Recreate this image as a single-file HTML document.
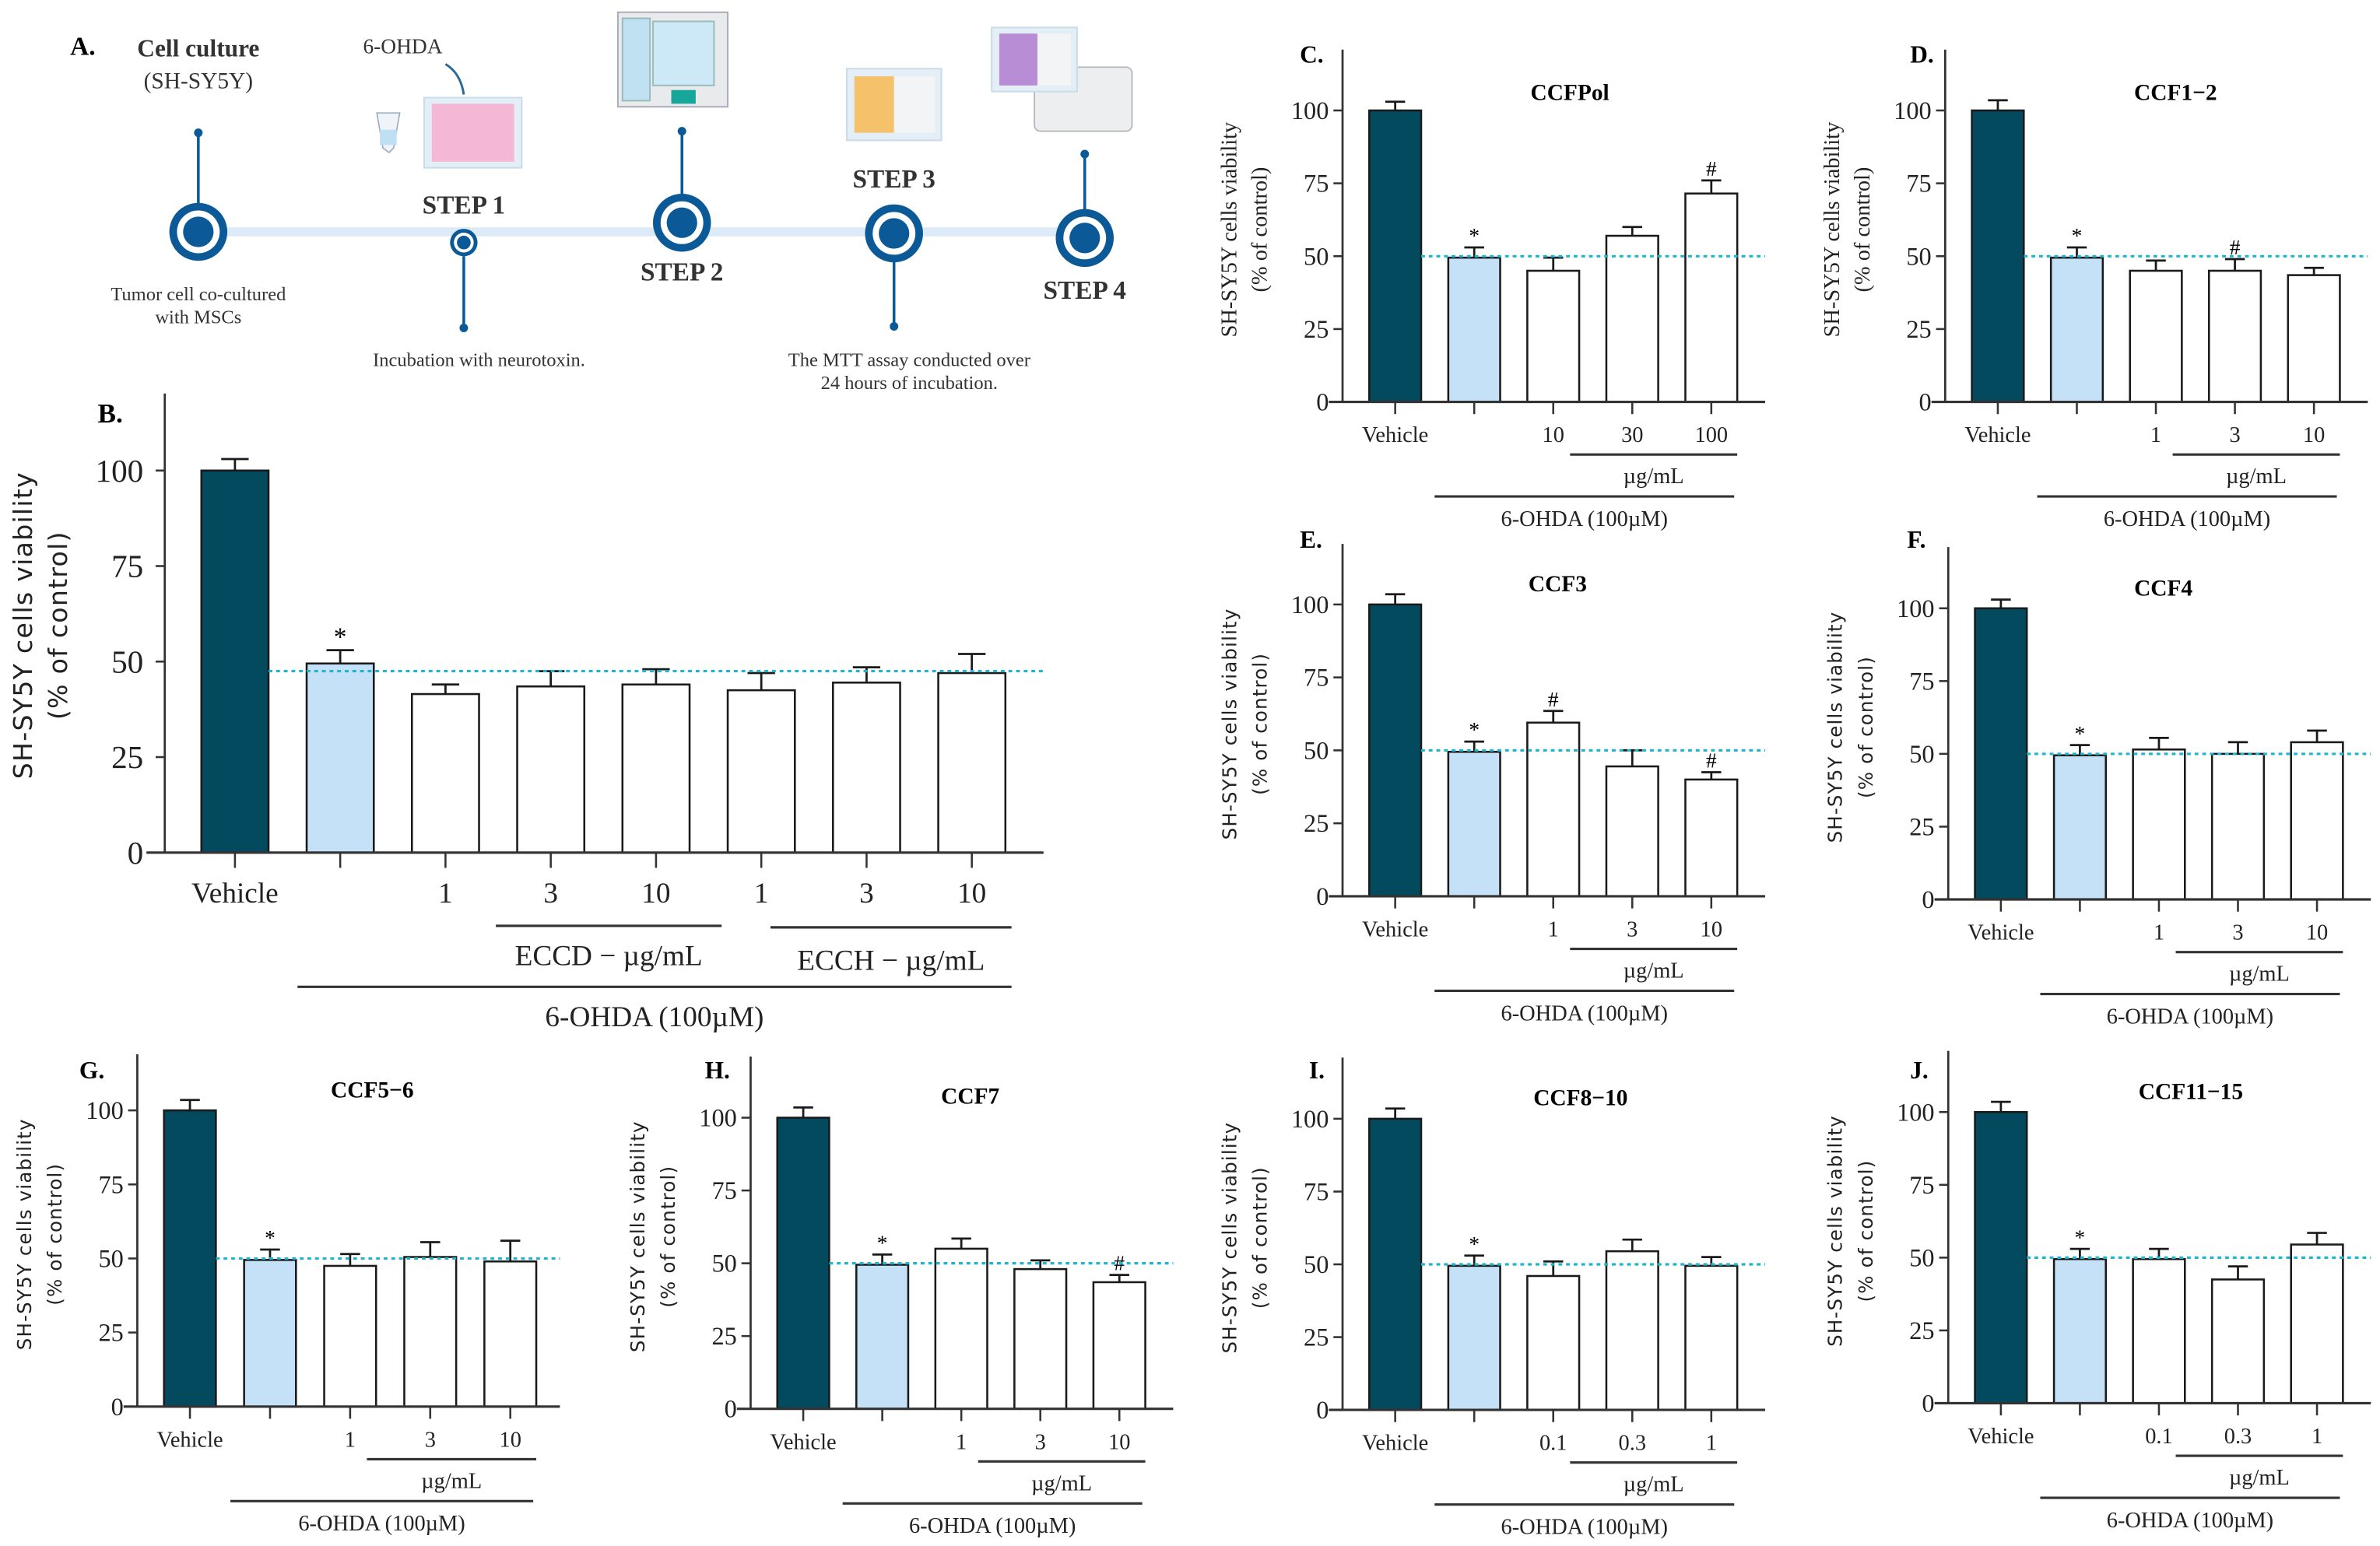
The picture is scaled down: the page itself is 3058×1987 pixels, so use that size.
<!DOCTYPE html>
<html><head><meta charset="utf-8"><style>
html,body{margin:0;padding:0;background:#fff;}
svg{display:block;}
.serif{font-family:"Liberation Serif",serif;}
.sans{font-family:"DejaVu Sans","Liberation Sans",sans-serif;}
</style></head><body>
<svg id="fig" xmlns="http://www.w3.org/2000/svg" width="3058" height="1987" viewBox="0 0 1560 1013.6">
<rect width="1560" height="1013.6" fill="#fff"/>
<!-- Panel A schematic -->
<g id="panelA" class="serif">
  <text x="46" y="36" font-size="17" font-weight="bold">A.</text>
  <text x="130" y="37" font-size="16" text-anchor="middle" font-weight="bold" fill="#333">Cell culture</text>
  <text x="130" y="58" font-size="15" text-anchor="middle" fill="#333">(SH-SY5Y)</text>
  <text x="264" y="35" font-size="14" text-anchor="middle" fill="#333">6-OHDA</text>
  <path d="M292 42 Q302 48 304 62" fill="none" stroke="#2a6a9a" stroke-width="1.5"/>
  <line x1="130" y1="152" x2="711" y2="152" stroke="#dcebf7" stroke-width="6"/>
  <!-- stems -->
  <g stroke="#0b5a97" stroke-width="1.8">
    <line x1="130" y1="87" x2="130" y2="134"/><line x1="304" y1="168" x2="304" y2="215"/>
    <line x1="447" y1="86" x2="447" y2="127"/><line x1="586" y1="171" x2="586" y2="214"/>
    <line x1="711" y1="101" x2="711" y2="138"/>
  </g>
  <g fill="#0b5a97">
    <circle cx="130" cy="87" r="2.8"/><circle cx="304" cy="215" r="2.8"/><circle cx="447" cy="86" r="2.8"/><circle cx="586" cy="214" r="2.8"/><circle cx="711" cy="101" r="2.8"/>
  </g>
  <g>
    <g><circle cx="130" cy="152" r="19" fill="#0b5a97"/><circle cx="130" cy="152" r="14" fill="#fff"/><circle cx="130" cy="152" r="10" fill="#0b5a97"/></g>
    <g><circle cx="304" cy="159" r="9" fill="#0b5a97"/><circle cx="304" cy="159" r="6.5" fill="#fff"/><circle cx="304" cy="159" r="4.5" fill="#0b5a97"/></g>
    <g><circle cx="447" cy="146" r="19" fill="#0b5a97"/><circle cx="447" cy="146" r="14" fill="#fff"/><circle cx="447" cy="146" r="10" fill="#0b5a97"/></g>
    <g><circle cx="586" cy="153" r="19" fill="#0b5a97"/><circle cx="586" cy="153" r="14" fill="#fff"/><circle cx="586" cy="153" r="10" fill="#0b5a97"/></g>
    <g><circle cx="711" cy="156" r="19" fill="#0b5a97"/><circle cx="711" cy="156" r="14" fill="#fff"/><circle cx="711" cy="156" r="10" fill="#0b5a97"/></g>
  </g>
  <g font-size="17" font-weight="bold" fill="#333" text-anchor="middle">
    <text x="304" y="140">STEP 1</text>
    <text x="447" y="184">STEP 2</text>
    <text x="586" y="123">STEP 3</text>
    <text x="711" y="196">STEP 4</text>
  </g>
  <g font-size="12.5" fill="#333" text-anchor="middle">
    <text x="130" y="197">Tumor cell co-cultured</text>
    <text x="130" y="212">with MSCs</text>
    <text x="314" y="240">Incubation with neurotoxin.</text>
    <text x="596" y="240">The MTT assay conducted over</text>
    <text x="596" y="255">24 hours of incubation.</text>
  </g>
  <!-- icons -->
  <g><path d="M247 74 L262 74 L258 97 L255 100 L251 97 Z" fill="#eef4fa" stroke="#9ab" stroke-width="0.8"/><rect x="249" y="85" width="11" height="10" fill="#bfe0f3"/></g>
  <g><rect x="278" y="64" width="64" height="46" fill="#e3eef6" stroke="#c8dbe8"/><rect x="283" y="68" width="54" height="38" fill="#f4b7d4"/></g>
  <g><rect x="405" y="8" width="72" height="62" fill="#e8eaec" stroke="#aab"/><rect x="428" y="14" width="40" height="42" fill="#cde8f6" stroke="#9bb"/><rect x="408" y="12" width="18" height="54" fill="#bfe1f2" stroke="#9bb"/><rect x="440" y="59" width="16" height="9" fill="#17a79a"/></g>
  <g><rect x="555" y="45" width="62" height="47" fill="#e3eef6" stroke="#c8dbe8"/><rect x="560" y="50" width="26" height="37" fill="#f5c26b"/><rect x="586" y="50" width="27" height="37" fill="#f2f4f6"/></g>
  <g><rect x="678" y="44" width="64" height="42" rx="4" fill="#eceef0" stroke="#bbb"/></g>
  <g><rect x="650" y="18" width="56" height="42" fill="#e3eef6" stroke="#c8dbe8"/><rect x="655" y="22" width="25" height="34" fill="#b98cd6"/><rect x="680" y="22" width="22" height="34" fill="#f2f4f6"/></g>
</g>
<g id="charts"></g>
</svg>
<script>
// ---------- DATA ----------
const catsB = ["Vehicle","","1","3","10","1","3","10"];
const valsB = [100,49.5,41.5,43.5,44,42.5,44.5,47];
const errsB = [3,3.5,2.5,4,4,4.5,4,5];
const marksB = ["","*","","","","","",""];
const dashB = 47.5;

const catsC = ["Vehicle","","10","30","100"];
const valsC = [100,49.5,45,57,71.5];
const errsC = [3,3.5,4.5,3,4.5];
const marksC = ["","*","","","#"];

const catsD = ["Vehicle","","1","3","10"];
const valsD = [100,49.5,45,45,43.5];
const errsD = [3.5,3.5,3.5,4,2.5];
const marksD = ["","*","","#",""];

const catsE = ["Vehicle","","1","3","10"];
const valsE = [100,49.5,59.5,44.5,40];
const errsE = [3.5,3.5,4,5.5,2.5];
const marksE = ["","*","#","","#"];

const catsF = ["Vehicle","","1","3","10"];
const valsF = [100,49.5,51.5,50,54];
const errsF = [3,3.5,4,4,4];
const marksF = ["","*","","",""];

const catsG = ["Vehicle","","1","3","10"];
const valsG = [100,49.5,47.5,50.5,49];
const errsG = [3.5,3.5,4,5,7];
const marksG = ["","*","","",""];

const catsH = ["Vehicle","","1","3","10"];
const valsH = [100,49.5,55,48,43.5];
const errsH = [3.5,3.5,3.5,3,2.5];
const marksH = ["","*","","","#"];

const catsI = ["Vehicle","","0.1","0.3","1"];
const valsI = [100,49.5,46,54.5,49.5];
const errsI = [3.5,3.5,5,4,3];
const marksI = ["","*","","",""];

const catsJ = ["Vehicle","","0.1","0.3","1"];
const valsJ = [100,49.5,49.5,42.5,54.5];
const errsJ = [3.5,3.5,3.5,4.5,4];
const marksJ = ["","*","","",""];

const yTicks = [0,25,50,75,100];
const dashSmall = 50;

// ---------- DRAW ----------
const NS = "http://www.w3.org/2000/svg";
const root = document.getElementById("charts");
function mk(tag, attrs, parent){
  const e = document.createElementNS(NS, tag);
  for (const k in attrs) e.setAttribute(k, attrs[k]);
  (parent||root).appendChild(e);
  return e;
}
const FILLS = ["#034a5e","#c4e1f8","#ffffff"];

function drawPanel(p){
  const g = mk("g", {});
  
  
  const yS = v => p.y0 - (p.y0 - p.y100) * v / 100;
  const xS = i => p.ax + p.off + i * p.sp;
  const ff = "Liberation Serif, serif";
  // panel letter
  const L = mk("text", {x:p.lx, y:p.ly, "font-size":p.big?18:16, "font-weight":"bold", "font-family":ff}, g);
  L.textContent = p.id.toUpperCase() + ".";
  
  
  // title
  if (p.title){
    const t = mk("text", {x:p.tx, y:p.ty, "font-size":15, "font-weight":"bold", "text-anchor":"middle", "dominant-baseline":"central", "font-family":ff}, g);
    t.textContent = p.title;
    
    
  }
  // y axis title
  const yf = p.sansY ? "DejaVu Sans, sans-serif" : ff;
  const yfs = p.big ? 17 : (p.sansY ? 12.5 : 14.5);
  [["SH-SY5Y cells viability", p.yt1], ["(% of control)", p.yt2]].forEach((pair, k) => {
    const t = mk("text", {x:pair[1], y:p.ytc, "font-size":yfs, "text-anchor":"middle", "dominant-baseline":"central", "font-family":yf, fill:"#222", transform:`rotate(-90 ${pair[1]} ${p.ytc})`}, g);
    if (p.sansY) t.setAttribute("letter-spacing", "0.6");
    t.textContent = pair[0];
    
    
  });
  // bars
  p.vals.forEach((v, i) => {
    const xc = xS(i);
    const top = yS(v);
    const r = mk("rect", {x:xc - p.bw/2, y:top, width:p.bw, height:p.y0 - top, fill:FILLS[Math.min(i,2)], stroke:"#1a1a1a", "stroke-width":1.3}, g);
    
    
    const et = yS(v + p.errs[i]);
    const cw = p.big ? 9 : 6.5;
    const e = mk("path", {d:`M${xc} ${top} V${et} M${xc-cw} ${et} H${xc+cw}`, stroke:"#1a1a1a", "stroke-width":1.4, fill:"none"}, g);
    
    
    if (p.marks[i]){
      const m = mk("text", {x:xc, y:et - 3, "font-size":p.big?17:14, "text-anchor":"middle", "font-family":ff}, g);
      m.textContent = p.marks[i];
      
      
    }
  });
  // dashed reference line
  const dy = yS(p.dash);
  const dl = mk("line", {x1:xS(0) + p.bw/2, x2:p.xEnd, y1:dy, y2:dy, stroke:"#1fb5cf", "stroke-width":1.6, "stroke-dasharray":"2.5 2.5"}, g);
  
  
  // axes
  const ya = mk("line", {x1:p.ax, x2:p.ax, y1:p.yTop, y2:p.y0, stroke:"#333", "stroke-width":1.4}, g);
  
  
  const xa = mk("line", {x1:p.ax - (p.big?12:9), x2:p.xEnd, y1:p.y0, y2:p.y0, stroke:"#333", "stroke-width":1.6}, g);
  
  
  yTicks.forEach(v => {
    const y = yS(v);
    if (v > 0){
      const tk = mk("line", {x1:p.ax - 6, x2:p.ax, y1:y, y2:y, stroke:"#333", "stroke-width":1.3}, g);
      
      
    }
    const tl = mk("text", {x:p.ax - (p.big?14:9), y:y, "font-size":p.big?21:16.5, "text-anchor":"end", "dominant-baseline":"central", "font-family":ff, fill:"#222"}, g);
    tl.textContent = v;
    
    
  });
  p.cats.forEach((c, i) => {
    const xc = xS(i);
    const tk = mk("line", {x1:xc, x2:xc, y1:p.y0, y2:p.y0 + (p.big?10:8), stroke:"#333", "stroke-width":1.3}, g);
    
    
    if (c){
      const tl = mk("text", {x:xc, y:p.y0 + (p.big?27:22), "font-size":p.big?19:14.5, "text-anchor":"middle", "dominant-baseline":"central", "font-family":ff, fill:"#222"}, g);
      tl.textContent = c;
      
      
    }
  });
  // group brackets
  p.groups.forEach(gr => {
    const ln = mk("line", {x1:gr.x1, x2:gr.x2, y1:gr.y, y2:gr.y, stroke:"#333", "stroke-width":1.6}, g);
    
    
    const tl = mk("text", {x:(gr.tx !== undefined ? gr.tx : (gr.x1 + gr.x2)/2), y:gr.ty, "font-size":p.big?19:14.5, "text-anchor":"middle", "dominant-baseline":"central", "font-family":ff, fill:"#222"}, g);
    tl.textContent = gr.text;
    
    
  });
}

function small(id, ax, y0, y100, cats, vals, errs, marks, title, tx, ty, lx, ly, sansY, sp){
  sp = sp || 51.8;
  const off = 34.5, bw = 34;
  const c = i => ax + off + i*sp;
  return {id, ax, y0, y100, cats, vals, errs, marks, title, tx, ty, lx, ly, sansY,
    off, sp, bw, dash:dashSmall, xEnd: ax + 277, yTop: y0 - 231,
    yt1: ax - 74, yt2: ax - 54, ytc: y0 - 113,
    groups:[
      {name:'ug-ml', x1:c(2)+11, x2:c(4)+bw/2, y:y0+34.5, ty:y0+49, text:"\u00b5g/mL"},
      {name:'6-ohda', x1:c(1)-26, x2:c(4)+bw/2-2, y:y0+62, ty:y0+77, text:"6-OHDA (100\u00b5M)"}
    ]};
}

// Panel B
(function(){
  const ax = 108, off = 46, sp = 69;
  const c = i => ax + off + i*sp;
  drawPanel({id:'b', big:true, ax, y0:559, y100:308.5, cats:catsB, vals:valsB, errs:errsB, marks:marksB,
    title:"", lx:64, ly:277, sansY:true, off, sp, bw:44, dash:dashB, xEnd:684, yTop:258,
    yt1:15, yt2:38, ytc:410,
    groups:[
      {name:'eccd', x1:c(3)-36, x2:c(4)+43, y:607, ty:627, tx:c(3)+38, text:"ECCD \u2212 \u00b5g/mL"},
      {name:'ecch', x1:c(5)+6, x2:c(7)+26, y:608, ty:630, tx:c(6)+16, text:"ECCH \u2212 \u00b5g/mL"},
      {name:'6-ohda', x1:c(1)-28, x2:c(7)+26, y:647, ty:667, text:"6-OHDA (100\u00b5M)"}
    ]});
})();

drawPanel(small('c', 880, 263.5, 72.4, catsC, valsC, errsC, marksC, "CCFPol", 1029, 61, 852, 41, false));
drawPanel(small('d', 1275, 263.5, 72.4, catsD, valsD, errsD, marksD, "CCF1\u22122", 1426, 61, 1252, 41, false));
drawPanel(small('e', 880, 587.6, 396.3, catsE, valsE, errsE, marksE, "CCF3", 1021, 383, 852, 359, true));
drawPanel(small('f', 1277, 589.7, 398.8, catsF, valsF, errsF, marksF, "CCF4", 1418, 386, 1250, 359, true));
drawPanel(small('g', 90, 922.2, 728, catsG, valsG, errsG, marksG, "CCF5\u22126", 244, 715, 52, 707, true, 52.5));
drawPanel(small('h', 492, 923.7, 732.8, catsH, valsH, errsH, marksH, "CCF7", 636, 719, 462, 707, true));
drawPanel(small('i', 880, 924.4, 733.5, catsI, valsI, errsI, marksI, "CCF8\u221210", 1036, 720, 858, 707, true));
drawPanel(small('j', 1277, 920, 729.1, catsJ, valsJ, errsJ, marksJ, "CCF11\u221215", 1436, 716, 1252, 707, true));
</script>
</body></html>
